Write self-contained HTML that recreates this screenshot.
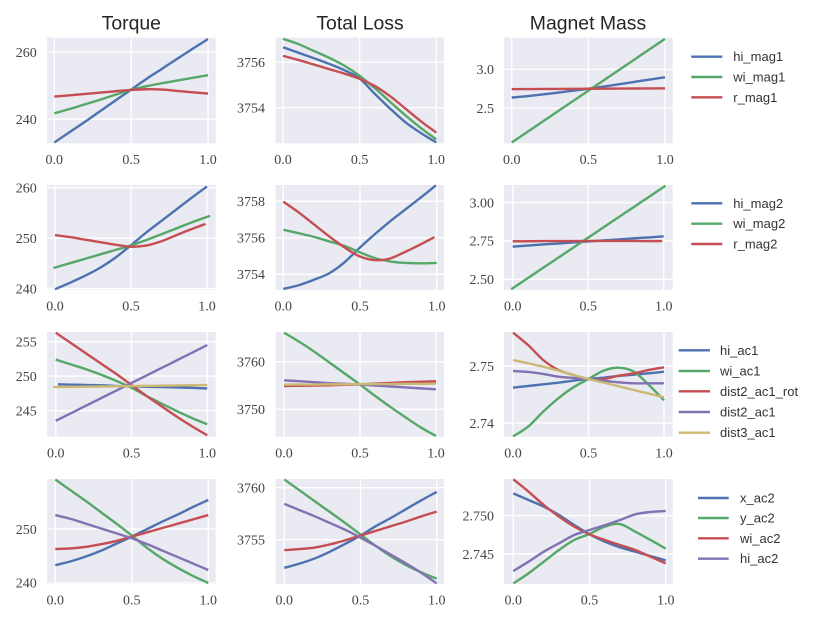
<!DOCTYPE html>
<html lang="en">
<head>
<meta charset="utf-8">
<title>Sensitivity chart grid</title>
<style>
html,body{margin:0;padding:0;background:#fff;}
svg{display:block;}
.tick{font-family:"Liberation Serif",serif;font-size:14px;fill:#444;}
.legend-text{font-family:"Liberation Sans",sans-serif;font-size:13px;fill:#333;}
.title{font-family:"Liberation Sans",sans-serif;font-size:19.4px;fill:#262626;text-anchor:middle;}
</style>
</head>
<body>
<svg id="chart" xmlns="http://www.w3.org/2000/svg" width="830" height="623" viewBox="0 0 830 623">
  <text class="title" x="131.3" y="29.5">Torque</text>
  <text class="title" x="360" y="29.5">Total Loss</text>
  <text class="title" x="588" y="29.5">Magnet Mass</text>
</svg>
<script>
// ---------- data: series values sampled at x = 0, 0.1 ... 1.0 ----------
const xTickLabels = ["0.0", "0.5", "1.0"];

const names1 = ["hi_mag1", "wi_mag1", "r_mag1"];
const names2 = ["hi_mag2", "wi_mag2", "r_mag2"];
const names3 = ["hi_ac1", "wi_ac1", "dist2_ac1_rot", "dist2_ac1", "dist3_ac1"];
const names4 = ["x_ac2", "y_ac2", "wi_ac2", "hi_ac2"];

// Torque
const torque1Ticks = ["260", "240"];
const torque1YLim = [232.75, 264.3];
const torque1Hi = [233, 236.1, 239.2, 242.4, 245.6, 248.8, 252, 255, 258, 261, 263.9];
const torque1Wi = [241.7, 243, 244.4, 245.8, 247.3, 248.7, 249.8, 250.7, 251.5, 252.3, 253.1];
const torque1R = [246.7, 247.1, 247.5, 247.9, 248.3, 248.7, 248.9, 248.8, 248.4, 248, 247.6];

const torque2Ticks = ["260", "250", "240"];
const torque2YLim = [239.75, 260.5];
const torque2Hi = [239.9, 241.2, 242.6, 244.2, 246.2, 248.6, 251.1, 253.4, 255.7, 258, 260.2];
const torque2Wi = [244.1, 245, 245.9, 246.8, 247.7, 248.6, 249.7, 250.9, 252.1, 253.3, 254.4];
const torque2R = [250.6, 250.2, 249.7, 249.2, 248.7, 248.3, 248.5, 249.3, 250.5, 251.7, 252.8];

const torque3Ticks = ["255", "250", "245"];
const torque3YLim = [241.2, 256.4];
const torque3Hi = [248.8, 248.75, 248.7, 248.65, 248.55, 248.5, 248.45, 248.4, 248.35, 248.3, 248.2];
const torque3Wi = [252.4, 251.7, 251, 250.2, 249.3, 248.3, 247.1, 246, 244.9, 243.9, 243];
const torque3Rot = [256.3, 254.8, 253.3, 251.8, 250.3, 248.7, 247.1, 245.6, 244.1, 242.7, 241.4];
const torque3Dist2 = [243.5, 244.6, 245.7, 246.8, 247.9, 249, 250.1, 251.2, 252.3, 253.4, 254.5];
const torque3Dist3 = [248.4, 248.43, 248.46, 248.49, 248.52, 248.55, 248.58, 248.61, 248.64, 248.67, 248.7];

const torque4Ticks = ["250", "240"];
const torque4YLim = [239.8, 259.3];
const torque4X = [243.3, 244, 244.9, 246, 247.3, 248.6, 250, 251.4, 252.7, 254.1, 255.4];
const torque4Y = [259.2, 257.2, 255.2, 253.1, 251, 248.8, 246.5, 244.5, 242.8, 241.3, 240];
const torque4Wi = [246.3, 246.4, 246.7, 247.2, 247.8, 248.6, 249.4, 250.2, 251, 251.8, 252.6];
const torque4Hi = [252.6, 251.9, 251, 250.1, 249.2, 248.3, 247.2, 246, 244.8, 243.6, 242.4];

// Total Loss
const loss1Ticks = ["3756", "3754"];
const loss1YLim = [3752.43, 3757.08];
const loss1Hi = [3756.66, 3756.42, 3756.18, 3755.93, 3755.65, 3755.28, 3754.6, 3753.95, 3753.35, 3752.88, 3752.47];
const loss1Wi = [3757.03, 3756.8, 3756.5, 3756.2, 3755.85, 3755.4, 3754.85, 3754.25, 3753.65, 3753.1, 3752.6];
const loss1R = [3756.28, 3756.1, 3755.9, 3755.7, 3755.5, 3755.27, 3754.95, 3754.5, 3753.95, 3753.4, 3752.9];

const loss2Ticks = ["3758", "3756", "3754"];
const loss2YLim = [3753.14, 3758.89];
const loss2Hi = [3753.2, 3753.4, 3753.7, 3754.05, 3754.65, 3755.45, 3756.2, 3756.9, 3757.55, 3758.2, 3758.87];
const loss2Wi = [3756.44, 3756.25, 3756.05, 3755.8, 3755.55, 3755.2, 3754.88, 3754.7, 3754.62, 3754.6, 3754.62];
const loss2R = [3757.98, 3757.4, 3756.75, 3756.1, 3755.5, 3755, 3754.78, 3754.85, 3755.2, 3755.6, 3756.03];

const loss3Ticks = ["3760", "3750"];
const loss3YLim = [3744.25, 3766.24];
const loss3Hi = [3755, 3755.05, 3755.1, 3755.15, 3755.2, 3755.25, 3755.3, 3755.4, 3755.5, 3755.6, 3755.7];
const loss3Wi = [3766.1, 3764.2, 3762.1, 3759.8, 3757.5, 3755.2, 3752.8, 3750.5, 3748.3, 3746.2, 3744.4];
const loss3Rot = [3754.9, 3754.95, 3755, 3755.05, 3755.15, 3755.25, 3755.4, 3755.55, 3755.7, 3755.8, 3755.9];
const loss3Dist2 = [3756.1, 3755.9, 3755.7, 3755.5, 3755.35, 3755.2, 3755, 3754.8, 3754.6, 3754.4, 3754.2];
const loss3Dist3 = [3755.2, 3755.2, 3755.2, 3755.25, 3755.25, 3755.3, 3755.3, 3755.3, 3755.35, 3755.35, 3755.4];

const loss4Ticks = ["3760", "3755"];
const loss4YLim = [3750.74, 3760.84];
const loss4X = [3752.3, 3752.7, 3753.2, 3753.85, 3754.6, 3755.4, 3756.3, 3757.1, 3757.95, 3758.8, 3759.6];
const loss4Y = [3760.8, 3759.75, 3758.7, 3757.65, 3756.6, 3755.5, 3754.4, 3753.4, 3752.55, 3751.85, 3751.25];
const loss4Wi = [3754, 3754.1, 3754.25, 3754.55, 3754.95, 3755.4, 3755.85, 3756.3, 3756.75, 3757.25, 3757.7];
const loss4Hi = [3758.45, 3757.85, 3757.25, 3756.6, 3755.95, 3755.2, 3754.4, 3753.55, 3752.7, 3751.8, 3750.8];

// Magnet Mass
const mass1Ticks = ["3.0", "2.5"];
const mass1YLim = [2.05, 3.405];
const mass1Hi = [2.636, 2.655, 2.677, 2.7, 2.725, 2.75, 2.778, 2.808, 2.838, 2.868, 2.897];
const mass1Wi = [2.06, 2.193, 2.326, 2.459, 2.592, 2.725, 2.858, 2.991, 3.124, 3.257, 3.39];
const mass1R = [2.745, 2.746, 2.747, 2.748, 2.749, 2.75, 2.751, 2.752, 2.753, 2.754, 2.755];

const mass2Ticks = ["3.00", "2.75", "2.50"];
const mass2YLim = [2.43, 3.115];
const mass2Hi = [2.713, 2.72, 2.727, 2.733, 2.74, 2.747, 2.753, 2.76, 2.767, 2.773, 2.78];
const mass2Wi = [2.435, 2.5025, 2.57, 2.6375, 2.705, 2.7725, 2.84, 2.9075, 2.975, 3.0425, 3.11];
const mass2R = [2.748, 2.748, 2.749, 2.749, 2.749, 2.75, 2.75, 2.75, 2.75, 2.749, 2.749];

const mass3Ticks = ["2.75", "2.74"];
const mass3YLim = [2.7376, 2.75596];
const mass3Hi = [2.7462, 2.74649, 2.74678, 2.74708, 2.74743, 2.74772, 2.74795, 2.74825, 2.74848, 2.74871, 2.749];
const mass3Wi = [2.73766, 2.73936, 2.74199, 2.74433, 2.74626, 2.74772, 2.74918, 2.74971, 2.74901, 2.74667, 2.74398];
const mass3Rot = [2.75585, 2.75368, 2.75105, 2.7493, 2.74842, 2.74772, 2.74772, 2.7483, 2.74871, 2.7493, 2.74977];
const mass3Dist2 = [2.74912, 2.74895, 2.7486, 2.74813, 2.7479, 2.74772, 2.74743, 2.74713, 2.74696, 2.74696, 2.74696];
const mass3Dist3 = [2.75105, 2.75047, 2.74988, 2.74918, 2.74842, 2.74772, 2.74708, 2.74643, 2.74579, 2.74515, 2.7445];

const mass4Ticks = ["2.750", "2.745"];
const mass4YLim = [2.74109, 2.75478];
const mass4X = [2.75291, 2.75204, 2.75117, 2.75009, 2.74878, 2.74757, 2.74661, 2.74587, 2.7453, 2.74474, 2.74417];
const mass4Y = [2.74117, 2.74248, 2.744, 2.74552, 2.74683, 2.74761, 2.74857, 2.74891, 2.74791, 2.74683, 2.7457];
const mass4Wi = [2.75474, 2.75313, 2.75139, 2.74987, 2.74857, 2.74757, 2.74683, 2.74617, 2.74552, 2.74465, 2.74378];
const mass4Hi = [2.74278, 2.744, 2.7453, 2.74639, 2.74748, 2.74813, 2.74875, 2.74943, 2.75017, 2.75048, 2.75061];

// ---------- layout ----------
const colors = ["#4C72B0", "#55A868", "#C44E52", "#8172B2", "#CCB974"];
const columnEdges = [[47, 215.7], [275.7, 444], [504, 672.7]];
const rowEdges = [[37.7, 143.3], [185, 290], [332, 436.7], [479, 584]];
const columnKeys = ["torque", "total-loss", "magnet-mass"];
const tickRight = [36.7, 265, 494];

const panels = [
  {c:0,r:0,xLim:[-.0475,1.05],yLim:torque1YLim,ticks:torque1Ticks,names:names1,series:[torque1Hi,torque1Wi,torque1R]},
  {c:1,r:0,xLim:[-.0476,1.0502],yLim:loss1YLim,ticks:loss1Ticks,names:names1,series:[loss1Hi,loss1Wi,loss1R]},
  {c:2,r:0,xLim:[-.0502,1.0502],yLim:mass1YLim,ticks:mass1Ticks,names:names1,series:[mass1Hi,mass1Wi,mass1R]},
  {c:0,r:1,xLim:[-.0526,1.0572],yLim:torque2YLim,ticks:torque2Ticks,names:names2,series:[torque2Hi,torque2Wi,torque2R],spans:[[0,1],[-.01,1.02],[0,.99]]},
  {c:1,r:1,xLim:[-.0495,1.0476],yLim:loss2YLim,ticks:loss2Ticks,names:names2,series:[loss2Hi,loss2Wi,loss2R],spans:[[0,.995],[0,1],[0,.985]]},
  {c:2,r:1,xLim:[-.0576,1.0596],yLim:mass2YLim,ticks:mass2Ticks,names:names2,series:[mass2Hi,mass2Wi,mass2R],spans:[[0,1],[-.01,1.012],[0,.99]]},
  {c:0,r:2,xLim:[-.0574,1.0554],yLim:torque3YLim,ticks:torque3Ticks,names:names3,series:[torque3Hi,torque3Wi,torque3Rot,torque3Dist2,torque3Dist3],spans:[[.015,1],[0,1],[0,1],[0,1],[-.015,1]]},
  {c:1,r:2,xLim:[-.0546,1.0526],yLim:loss3YLim,ticks:loss3Ticks,names:names3,series:[loss3Hi,loss3Wi,loss3Rot,loss3Dist2,loss3Dist3]},
  {c:2,r:2,xLim:[-.0596,1.0576],yLim:mass3YLim,ticks:mass3Ticks,names:names3,series:[mass3Hi,mass3Wi,mass3Rot,mass3Dist2,mass3Dist3]},
  {c:0,r:3,xLim:[-.0542,1.0484],yLim:torque4YLim,ticks:torque4Ticks,names:names4,series:[torque4X,torque4Y,torque4Wi,torque4Hi]},
  {c:1,r:3,xLim:[-.0564,1.0479],yLim:loss4YLim,ticks:loss4Ticks,names:names4,series:[loss4X,loss4Y,loss4Wi,loss4Hi]},
  {c:2,r:3,xLim:[-.061,1.0459],yLim:mass4YLim,ticks:mass4Ticks,names:names4,series:[mass4X,mass4Y,mass4Wi,mass4Hi]}
];

const legends = [
  {names:names1,lineX:[691.3,722.3],textX:733.3,ys:[56.7,77,97.3]},
  {names:names2,lineX:[691.3,722.3],textX:733.3,ys:[203.3,223.7,244]},
  {names:names3,lineX:[678.7,710],textX:720,ys:[350.3,371,391.3,412,432.7]},
  {names:names4,lineX:[698,728.7],textX:740,ys:[498,518,538.3,558.7]}
];

// ---------- drawing ----------
const svg = document.getElementById('chart');
const NS = 'http://www.w3.org/2000/svg';

function make(parent, tag, attrs, text) {
  const el = document.createElementNS(NS, tag);
  for (const k in attrs) el.setAttribute(k, attrs[k]);
  if (text !== undefined) el.textContent = text;
  parent.appendChild(el);
  return el;
}

function linearScale(domain, range) {
  return v => range[0] + (v - domain[0]) * (range[1] - range[0]) / (domain[1] - domain[0]);
}

function smoothPath(pts) {
  let d = 'M' + pts[0][0].toFixed(2) + ' ' + pts[0][1].toFixed(2);
  for (let i = 0; i < pts.length - 1; i++) {
    const p0 = pts[Math.max(i - 1, 0)], p1 = pts[i], p2 = pts[i + 1], p3 = pts[Math.min(i + 2, pts.length - 1)];
    const c1x = p1[0] + (p2[0] - p0[0]) / 6, c1y = p1[1] + (p2[1] - p0[1]) / 6;
    const c2x = p2[0] - (p3[0] - p1[0]) / 6, c2y = p2[1] - (p3[1] - p1[1]) / 6;
    d += 'C' + [c1x, c1y, c2x, c2y, p2[0], p2[1]].map(n => n.toFixed(2)).join(' ');
  }
  return d;
}

panels.forEach(p => {
  const [left, right] = columnEdges[p.c];
  const [top, bottom] = rowEdges[p.r];
  const sx = linearScale(p.xLim, [left, right]);
  const sy = linearScale(p.yLim, [bottom, top]);
  const key = columnKeys[p.c] + '-row' + (p.r + 1);

  const g = make(svg, 'g', {});
  
  

  const bg = make(g, 'rect', {x: left, y: top, width: right - left, height: bottom - top, fill: '#EAEAF2'});
  
  

  xTickLabels.forEach(label => {
    const x = sx(parseFloat(label));
    const grid = make(g, 'line', {x1: x, x2: x, y1: top, y2: bottom, stroke: '#fff', 'stroke-width': 1.4});
    
    
    const t = make(g, 'text', {class: 'tick', x: x, y: bottom + 20.7, 'text-anchor': 'middle'}, label);
    
    
  });

  p.ticks.forEach(label => {
    const y = sy(parseFloat(label));
    const grid = make(g, 'line', {x1: left, x2: right, y1: y, y2: y, stroke: '#fff', 'stroke-width': 1.4});
    
    
    const t = make(g, 'text', {class: 'tick', x: tickRight[p.c], y: y + 4.8, 'text-anchor': 'end'}, label);
    
    
  });

  p.series.forEach((vals, i) => {
    const span = p.spans ? p.spans[i] : [0, 1];
    const pts = vals.map((v, j) => [sx(span[0] + (span[1] - span[0]) * j / (vals.length - 1)), sy(v)]);
    const line = make(g, 'path', {d: smoothPath(pts), fill: 'none', stroke: colors[i], 'stroke-width': 2.4, 'stroke-linecap': 'butt', 'stroke-linejoin': 'round'});
    
    
  });
});

legends.forEach((lg, r) => {
  const g = make(svg, 'g', {});
  
  
  lg.names.forEach((name, i) => {
    const y = lg.ys[i];
    const swatch = make(g, 'line', {x1: lg.lineX[0], x2: lg.lineX[1], y1: y, y2: y, stroke: colors[i], 'stroke-width': 2.4});
    
    
    const label = make(g, 'text', {class: 'legend-text', x: lg.textX, y: y + 4.5}, name);
    
    
  });
});
</script>
</body>
</html>
